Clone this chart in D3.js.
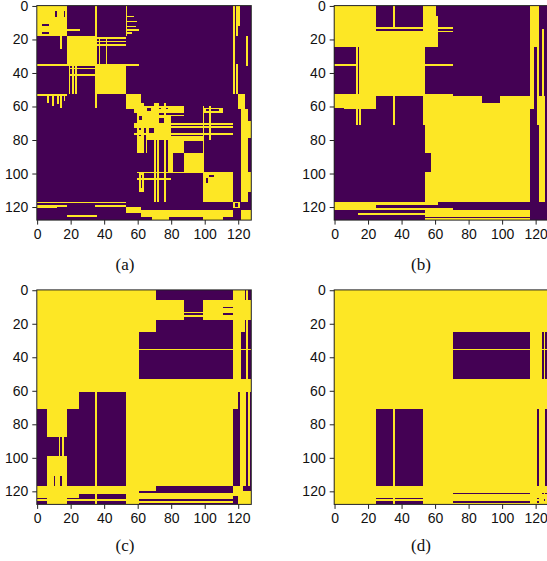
<!DOCTYPE html>
<html>
<head>
<meta charset="utf-8">
<script src="https://cdn.jsdelivr.net/npm/d3@7"></script>
<style>
  body { margin: 0; background: #fff; overflow: hidden; }
  svg { display: block; }
</style>
</head>
<body>
<svg></svg>
<script>
// matrix size and tick labels
var N = 128;
var tickValues = [0, 20, 40, 60, 80, 100, 120];
var captions = ["(a)", "(b)", "(c)", "(d)"];
var baseValues = [0, 0, 1, 1];

// each entry: [row0, row1, col0, col1, value] (half open, painted in order,
// mirrored about the diagonal since the matrices are symmetric)
var rectsA = [
  [0, 18, 0, 18, 1], [3, 7, 11, 12, 0], [3, 7, 16, 17, 0],
  [18, 35, 18, 35, 1], [36, 53, 36, 53, 1],
  [35, 36, 0, 61, 1], [53, 54, 0, 18, 1], [14, 15, 18, 26, 1],
  [19, 20, 35, 53, 1], [21, 22, 35, 53, 1], [23, 24, 35, 53, 1],
  [20, 36, 37, 38, 1], [20, 36, 41, 42, 1],
  [54, 58, 6, 7, 1], [54, 60, 9, 10, 1], [54, 59, 12, 13, 1], [54, 61, 14, 15, 1], [54, 57, 16, 17, 1],
  [53, 62, 53, 62, 1], [58, 72, 58, 72, 1], [58, 62, 64, 70, 0],
  [60, 64, 58, 88, 1], [61, 63, 66, 68, 0], [61, 63, 72, 74, 0], [61, 63, 76, 78, 0],
  [61, 64, 99, 111, 1], [62, 63, 101, 109, 0],
  [66, 80, 66, 80, 1], [67, 70, 73, 76, 0],
  [70, 71, 62, 117, 1], [72, 73, 58, 117, 1], [76, 77, 58, 117, 1],
  [62, 63, 70, 88, 1], [65, 66, 70, 88, 1],
  [78, 100, 78, 100, 1], [81, 88, 88, 99, 0],
  [99, 100, 60, 117, 1], [103, 104, 60, 80, 1],
  [99, 117, 99, 117, 1], [103, 106, 101, 102, 0],
  [0, 53, 117, 118, 1], [0, 18, 119, 120, 1], [35, 53, 119, 120, 1], [0, 12, 120, 121, 1],
  [18, 36, 125, 126, 1],
  [53, 62, 120, 124, 1], [62, 117, 122, 126, 1],
  [69, 79, 126, 128, 1], [99, 111, 126, 128, 1],
  [117, 121, 117, 121, 1], [118, 120, 118, 120, 0], [122, 128, 122, 128, 1]
];

var rectsB = [
  [0, 25, 0, 25, 1], [15, 54, 15, 54, 1],
  [0, 25, 53, 61, 1], [6, 25, 61, 62, 1],
  [0, 13, 35, 36, 1], [13, 14, 25, 71, 1], [15, 16, 25, 71, 1],
  [35, 36, 54, 71, 1], [54, 61, 0, 25, 1],
  [54, 117, 54, 117, 1], [53, 54, 54, 71, 1], [54, 58, 88, 99, 0],
  [0, 62, 117, 119, 1], [0, 71, 121, 122, 1], [0, 25, 119, 121, 1],
  [54, 117, 122, 128, 1], [54, 117, 126, 127, 0], [14, 54, 124, 125, 1]
];

var rectsC = [
  [0, 6, 71, 117, 0], [6, 18, 88, 99, 0], [13, 14, 88, 99, 1], [15, 16, 88, 99, 1],
  [10, 11, 111, 117, 0], [14, 15, 111, 117, 0],
  [18, 25, 71, 117, 0], [25, 53, 61, 117, 0],
  [0, 6, 124, 125, 0], [0, 6, 126, 128, 0],
  [18, 53, 124, 125, 0], [18, 53, 126, 128, 0], [25, 53, 122, 124, 0],
  [35, 36, 61, 128, 1],
  [117, 121, 71, 117, 0], [120, 121, 61, 71, 0],
  [125, 126, 61, 117, 0], [127, 128, 61, 117, 0],
  [123, 128, 117, 120, 0]
];

var rectsD = [
  [25, 53, 71, 117, 0], [35, 36, 71, 117, 1],
  [121, 122, 71, 117, 0], [126, 127, 71, 117, 0],
  [124, 125, 25, 53, 0], [126, 128, 25, 53, 0], [124, 128, 35, 36, 1],
  [121, 122, 124, 125, 0], [121, 122, 126, 127, 0], [125, 126, 125, 126, 0]
];

var allRects = [rectsA, rectsB, rectsC, rectsD];

var purple = "#440154";
var yellow = "#fde725";

var width = 547;
var height = 561;
var size = 214.5;
var panelX = [36.8, 334.2];
var panelY = [5.6, 289.9];
var captionX = [125, 421];
var captionY = [270, 551];

var svg = d3.select("svg")
    .attr("width", width)
    .attr("height", height);

var x = d3.scaleBand().domain(d3.range(N)).range([0, size]).padding(0);
var y = d3.scaleBand().domain(d3.range(N)).range([0, size]).padding(0);

function buildGrid(base, rects) {
    var grid = d3.range(N).map(function() { return new Array(N).fill(base); });
    rects.forEach(function(r) {
        for (var i = r[0]; i < r[1]; i++) {
            for (var j = r[2]; j < r[3]; j++) {
                grid[i][j] = r[4];
                grid[j][i] = r[4];
            }
        }
    });
    return grid;
}

// turn each row into runs of equal value
function rowRuns(grid) {
    var runs = [];
    grid.forEach(function(row, i) {
        var start = 0;
        for (var j = 1; j <= N; j++) {
            if (j == N || row[j] != row[start]) {
                runs.push({row: i, c0: start, c1: j, v: row[start]});
                start = j;
            }
        }
    });
    return runs;
}

allRects.forEach(function(rects, k) {
    var px = panelX[k % 2];
    var py = panelY[Math.floor(k / 2)];
    var grid = buildGrid(baseValues[k], rects);

    var g = svg.append("g")
        .attr("transform", "translate(" + px + "," + py + ")");

    g.append("g")
        .attr("shape-rendering", "crispEdges")
        .selectAll("rect")
        .data(rowRuns(grid))
        .enter().append("rect")
        .attr("x", function(d) { return x(d.c0); })
        .attr("y", function(d) { return y(d.row); })
        .attr("width", function(d) { return x.step() * (d.c1 - d.c0); })
        .attr("height", y.bandwidth())
        .attr("fill", function(d) { return d.v ? yellow : purple; });

    g.append("rect")
        .attr("width", size)
        .attr("height", size)
        .attr("fill", "none")
        .attr("stroke", "#222")
        .attr("stroke-width", 1);

    var xAxis = g.append("g")
        .attr("transform", "translate(0," + size + ")")
        .call(d3.axisBottom(x).tickValues(tickValues).tickSize(4.5).tickPadding(4.5));
    var yAxis = g.append("g")
        .call(d3.axisLeft(y).tickValues(tickValues).tickSize(4.5).tickPadding(4));

    [xAxis, yAxis].forEach(function(ax) {
        ax.select(".domain").remove();
        ax.selectAll("line").attr("stroke", "#222").attr("stroke-width", 1);
        ax.selectAll("text")
            .attr("fill", "#111")
            .style("font-family", "'Liberation Sans', Arial, sans-serif")
            .style("font-size", "14px");
    });

    svg.append("text")
        .attr("x", captionX[k % 2])
        .attr("y", captionY[Math.floor(k / 2)])
        .attr("text-anchor", "middle")
        .style("font-family", "'Liberation Serif', 'Times New Roman', serif")
        .style("font-size", "17px")
        .attr("fill", "#111")
        .text(captions[k]);
});
</script>
</body>
</html>
